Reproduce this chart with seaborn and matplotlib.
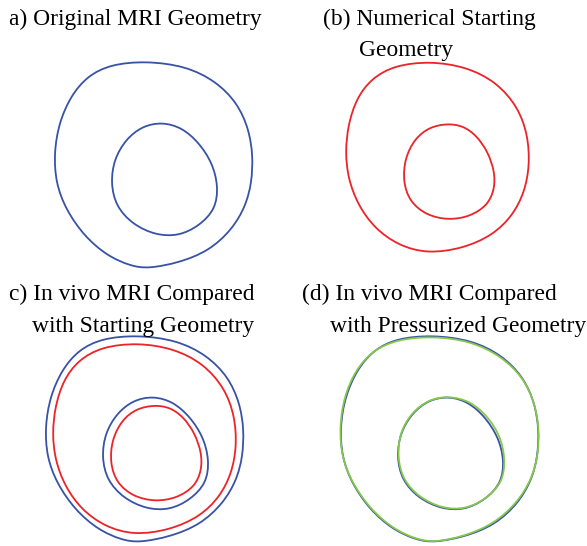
import numpy as np
import matplotlib
matplotlib.use("Agg")
import matplotlib.pyplot as plt
from matplotlib.path import Path
from matplotlib.patches import PathPatch
import seaborn as sns

sns.set_theme(style="white")
plt.rcParams["font.family"] = ["Liberation Serif", "DejaVu Serif"]

# Wall contours in mm, centred on the in vivo outer boundary (y up)
mri_outer_x = [-0.75, -4.28, -6.62, -8.28, -9.45, -9.95, -9.78, -8.78, -6.95, -4.62, -2.28,
               -0.55, 2.55, 5.55, 7.88, 9.22, 9.82, 9.95, 9.55, 8.38, 6.22, 3.22]
mri_outer_y = [10.40, 10.07, 8.90, 6.90, 4.23, 1.23, -1.77, -4.43, -7.10, -9.10, -10.10,
               -10.37, -9.77, -8.60, -6.43, -4.10, -1.77, 0.90, 3.57, 6.23, 8.40, 9.90]
mri_inner_x = [0.88, -1.12, -2.78, -3.95, -4.28, -3.78, -2.12, 0.22, 2.55, 4.55, 6.22,
               6.48, 5.88, 4.55, 2.88]
mri_inner_y = [4.30, 3.90, 2.57, 0.57, -1.77, -4.10, -5.93, -7.03, -7.10, -6.10, -4.43,
               -2.10, 0.23, 2.23, 3.73]

start_outer_x = [-0.70, -4.28, -6.62, -8.12, -8.95, -9.22, -8.95, -7.95, -6.28, -3.95,
                 -1.05, 2.55, 5.55, 7.55, 8.72, 9.22, 9.05, 8.05, 5.88, 2.88]
start_outer_y = [9.63, 9.23, 7.90, 5.90, 3.23, 0.57, -2.10, -4.77, -7.10, -8.77,
                 -9.63, -9.10, -7.77, -5.77, -3.43, -0.77, 2.23, 5.07, 7.57, 9.07]
start_inner_x = [1.05, -0.78, -2.28, -3.28, -3.45, -2.78, -1.12, 1.05, 3.22, 5.05, 5.72,
                 5.72, 5.05, 3.88, 2.55]
start_inner_y = [3.40, 3.07, 1.90, -0.10, -2.43, -4.43, -5.77, -6.27, -5.93, -4.77, -3.10,
                 -1.43, 0.57, 2.23, 3.17]

press_outer_x = [-0.75, -4.28, -6.70, -8.40, -9.55, -10.00, -9.80, -8.75, -6.90, -4.55, -2.25,
                 -0.50, 2.50, 5.45, 7.80, 9.20, 9.85, 9.98, 9.55, 8.35, 6.15, 3.15]
press_outer_y = [10.30, 9.95, 8.85, 6.90, 4.23, 1.23, -1.77, -4.40, -7.05, -9.05, -10.05,
                 -10.35, -9.72, -8.50, -6.35, -4.05, -1.75, 0.90, 3.60, 6.20, 8.30, 9.80]
press_inner_x = [0.85, -1.10, -2.85, -4.00, -4.20, -3.70, -2.05, 0.25, 2.55, 4.60, 6.30,
                 6.60, 6.10, 4.80, 3.00]
press_inner_y = [4.30, 3.95, 2.60, 0.55, -1.77, -4.05, -5.85, -6.95, -7.05, -6.05, -4.40,
                 -2.10, 0.30, 2.30, 3.85]

BLUE = "#3852A6"
RED = "#EC2328"
GREEN = "#86C84A"

W, H = 587, 546
fig = plt.figure(figsize=(W / 100, H / 100), dpi=100)
fig.patch.set_facecolor("white")


def closed_curve(xs, ys):
    """Closed cubic B-spline through the traced contour points, as Bezier segments."""
    p = np.column_stack([xs, ys])
    n = len(p)
    knots = [(p[i - 1] + 4 * p[i] + p[(i + 1) % n]) / 6.0 for i in range(n)]
    verts = [knots[0]]
    codes = [Path.MOVETO]
    for i in range(n):
        a, b = p[i], p[(i + 1) % n]
        verts += [(2 * a + b) / 3.0, (a + 2 * b) / 3.0, knots[(i + 1) % n]]
        codes += [Path.CURVE4] * 3
    return Path(verts, codes)


def draw_contour(ax, xs, ys, color):
    ax.add_patch(PathPatch(closed_curve(xs, ys), fill=False, edgecolor=color,
                           lw=1.3, clip_on=False, joinstyle="round"))


def panel(cx, cy, contours):
    ax = fig.add_axes([(cx - 100) / W, (H - cy - 100) / H, 200 / W, 200 / H])
    ax.set_xlim(-10, 10)
    ax.set_ylim(-10, 10)
    ax.set_aspect("equal")
    ax.axis("off")
    for xs, ys, col in contours:
        draw_contour(ax, xs, ys, col)
    return ax


def title(x, y, s):
    fig.text(x / W, 1 - y / H, s, ha="left", va="baseline", fontsize=16.9, color="black")


panel(153.5, 165, [(mri_outer_x, mri_outer_y, BLUE), (mri_inner_x, mri_inner_y, BLUE)])
panel(437.5, 157.5, [(start_outer_x, start_outer_y, RED), (start_inner_x, start_inner_y, RED)])
panel(144.5, 439, [(mri_outer_x, mri_outer_y, BLUE), (mri_inner_x, mri_inner_y, BLUE),
                   (start_outer_x, start_outer_y, RED), (start_inner_x, start_inner_y, RED)])
panel(439.5, 439, [(mri_outer_x, mri_outer_y, BLUE), (mri_inner_x, mri_inner_y, BLUE),
                   (press_outer_x, press_outer_y, GREEN), (press_inner_x, press_inner_y, GREEN)])

title(9, 25, "a) Original MRI Geometry")
title(323, 25, "(b) Numerical Starting")
title(359, 56, "Geometry")
title(9, 300, "c) In vivo MRI Compared")
title(32, 332, "with Starting Geometry")
title(302, 300, "(d) In vivo MRI Compared")
title(330, 332, "with Pressurized Geometry")

fig.savefig("out.png", dpi=100, facecolor="white")
